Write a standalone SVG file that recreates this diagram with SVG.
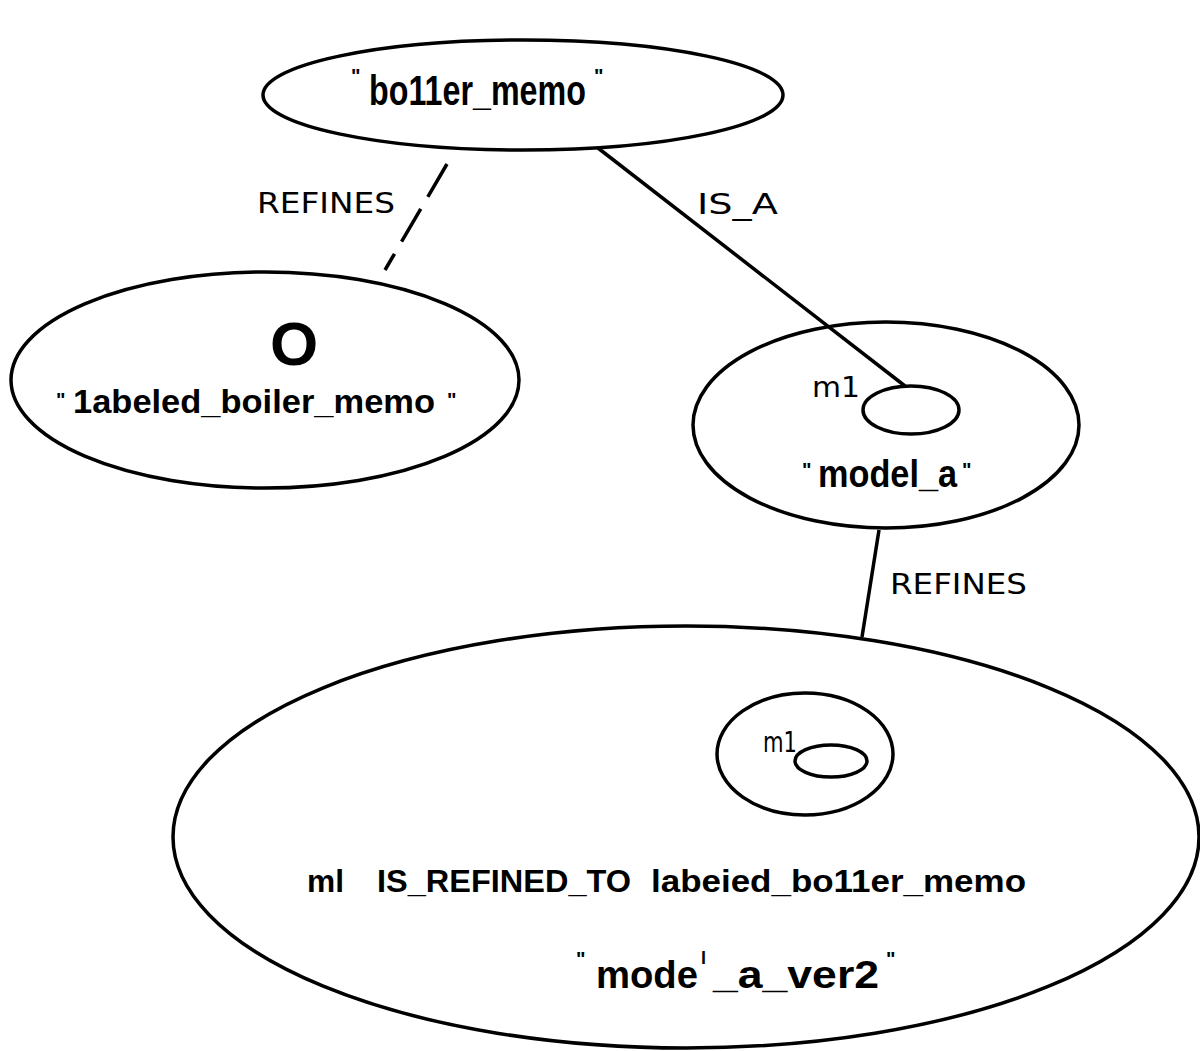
<svg xmlns="http://www.w3.org/2000/svg" width="1200" height="1051" viewBox="0 0 1200 1051">
<style>
.n{fill:none;stroke:#000;stroke-width:3.5}
.c{fill:none;stroke:#000;stroke-width:3.5}
.t{font-family:"Liberation Sans",Arial,sans-serif;font-weight:bold;fill:#000}
.l{font-family:"DejaVu Sans","Liberation Sans",sans-serif;fill:#000;font-size:29px}
.q{font-size:20px}
</style>
<rect width="1200" height="1051" fill="#fff"/>
<g id="boiler_memo">
<ellipse class="n" cx="523" cy="95" rx="260" ry="55"/>
<text class="t q" x="351" y="83">"</text>
<text class="t" font-size="43" transform="translate(369,105) scale(0.75,1)">bo11er_memo</text>
<text class="t q" x="594" y="83">"</text>
</g>
<g id="labeled_boiler_memo">
<ellipse class="n" cx="265" cy="380" rx="254" ry="108"/>
<text class="t" x="294" y="365" font-size="62" text-anchor="middle">O</text>
<text class="t q" x="56" y="407">"</text>
<text class="t" x="73" y="413" font-size="33" textLength="362" lengthAdjust="spacingAndGlyphs">1abeled_boiler_memo</text>
<text class="t q" x="447" y="407">"</text>
</g>
<g id="model_a">
<ellipse class="n" cx="886" cy="425" rx="193" ry="103"/>
<ellipse class="n" cx="911" cy="410" rx="48" ry="24"/>
<text class="l" x="812" y="397" font-size="28" textLength="48" lengthAdjust="spacingAndGlyphs">m1</text>
<text class="t q" x="802" y="477">"</text>
<text class="t" font-size="39" transform="translate(818,487) scale(0.879,1)">model_a</text>
<text class="t q" x="962" y="477">"</text>
</g>
<g id="model_a_ver2">
<ellipse class="n" cx="686" cy="837" rx="513" ry="211"/>
<ellipse class="n" cx="805" cy="754" rx="88" ry="61"/>
<ellipse class="n" cx="831" cy="761" rx="36" ry="16"/>
<text class="l" x="763" y="752" font-size="26" textLength="34" lengthAdjust="spacingAndGlyphs">m1</text>
<text class="t" x="307" y="892" font-size="31" textLength="37" lengthAdjust="spacingAndGlyphs">ml</text>
<text class="t" x="377" y="892" font-size="31" textLength="254" lengthAdjust="spacingAndGlyphs">IS_REFINED_TO</text>
<text class="t" x="651" y="892" font-size="31" textLength="375" lengthAdjust="spacingAndGlyphs">labeied_bo11er_memo</text>
<text class="t q" x="576" y="966">"</text>
<text class="t" x="596" y="988" font-size="38" textLength="102" lengthAdjust="spacingAndGlyphs">mode</text>
<text class="t" x="701" y="964" font-size="18">l</text>
<text class="t" x="713" y="988" font-size="38" textLength="166" lengthAdjust="spacingAndGlyphs">_a_ver2</text>
<text class="t q" x="886" y="966">"</text>
</g>
<g id="connectors">
<line class="c" x1="447" y1="164" x2="385" y2="270" stroke-dasharray="38,14"/>
<line class="c" x1="598" y1="148" x2="905" y2="386"/>
<line class="c" x1="879" y1="530" x2="862" y2="637"/>
<text class="l" x="257" y="213" textLength="138" lengthAdjust="spacingAndGlyphs">REFINES</text>
<text class="l" x="697" y="214" textLength="81" lengthAdjust="spacingAndGlyphs">IS_A</text>
<text class="l" x="890" y="594" textLength="137" lengthAdjust="spacingAndGlyphs">REFINES</text>
</g>
</svg>
